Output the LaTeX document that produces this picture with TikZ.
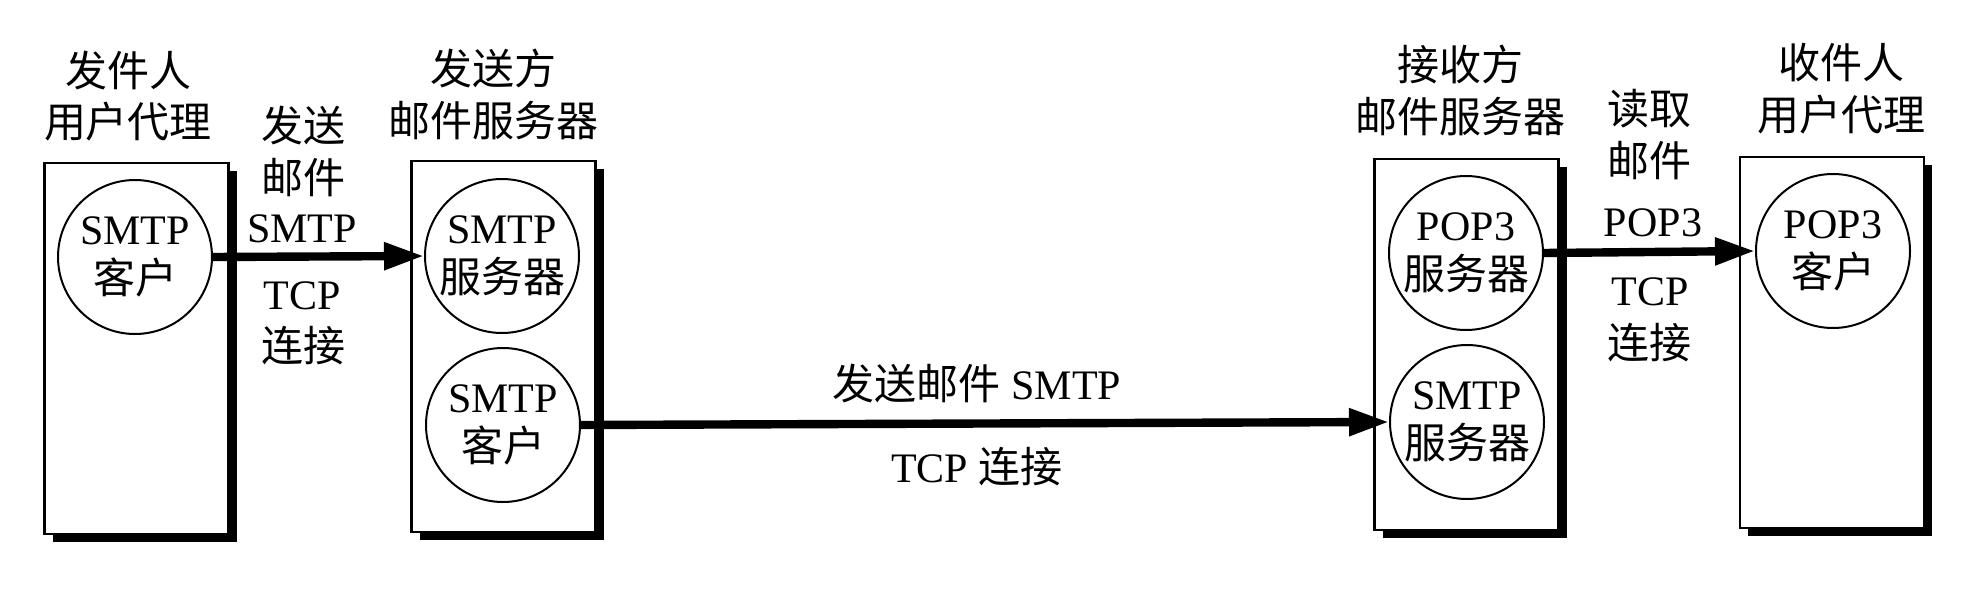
\documentclass[tikz,border=0pt]{standalone}
\usepackage{fontspec}
\setmainfont{Liberation Serif}
\newfontfamily\cjk{Noto Sans CJK SC}
\usetikzlibrary{arrows.meta,shadows}
\begin{document}
\begin{tikzpicture}[x=0.5pt,y=-0.5pt,
  txt/.style={font=\fontsize{21}{25}\selectfont, inner sep=0pt, anchor=base},
  srvbox/.style={draw, fill=white, line width=1.2pt, minimum width=92pt, minimum height=185.5pt, inner sep=0pt,
    drop shadow={shadow xshift=4pt, shadow yshift=-4pt, fill=black, opacity=1}},
  proc/.style={circle, draw, fill=white, line width=1pt, minimum size=77pt, inner sep=0pt, align=center,
    font=\fontsize{21}{24.5}\selectfont},
  conn/.style={line width=4.2pt, -{Triangle[length=20pt,width=13pt]}}]
\useasboundingbox (0,0) rectangle (1988,600);
\fill[white] (0,0) rectangle (1988,600);

% boxes
\node[srvbox] (box1) at (136.5,348.5) {};
\node[srvbox] (box2) at (503.5,346.5) {};
\node[srvbox] (box3) at (1466.5,344.5) {};
\node[srvbox] (box4) at (1832,342.5) {};

% titles
\node[txt] (t1a) at (128,86) {\cjk 发件人};
\node[txt] (t1b) at (128,137) {\cjk 用户代理};
\node[txt] (t2a) at (493,84) {\cjk 发送方};
\node[txt] (t2b) at (493,136) {\cjk 邮件服务器};
\node[txt] (t3a) at (1460,80) {\cjk 接收方};
\node[txt] (t3b) at (1460,132) {\cjk 邮件服务器};
\node[txt] (t4a) at (1841,78) {\cjk 收件人};
\node[txt] (t4b) at (1841,130) {\cjk 用户代理};

% processes
\node[proc] (A) at (135,257) {SMTP\\{\cjk 客户}};
\node[proc] (B) at (502,256) {SMTP\\{\cjk 服务器}};
\node[proc] (C) at (503,425) {SMTP\\{\cjk 客户}};
\node[proc] (D) at (1466,253) {POP3\\{\cjk 服务器}};
\node[proc] (E) at (1467,422) {SMTP\\{\cjk 服务器}};
\node[proc] (F) at (1833,251) {POP3\\{\cjk 客户}};

% connectors
\draw[conn] (A.east) -- (B.west);
\draw[conn] (C.east) -- (E.west);
\draw[conn] (D.east) -- (F.west);

% labels of first connector
\node[txt] (a1) at (303,141) {\cjk 发送};
\node[txt] (a2) at (303,193) {\cjk 邮件};
\node[txt] (a3) at (302,242) {SMTP};
\node[txt] (a4) at (302,309) {TCP};
\node[txt] (a5) at (303,361) {\cjk 连接};

% labels of long connector
\node[txt] (b1) at (977,399) {{\cjk 发送邮件} SMTP};
\node[txt] (b2) at (977,482) {TCP {\cjk 连接}};

% labels of third connector
\node[txt] (c1) at (1649,124) {\cjk 读取};
\node[txt] (c2) at (1649,176) {\cjk 邮件};
\node[txt] (c3) at (1653,236) {POP3};
\node[txt] (c4) at (1650,305) {TCP};
\node[txt] (c5) at (1649,358) {\cjk 连接};
\end{tikzpicture}
\end{document}
